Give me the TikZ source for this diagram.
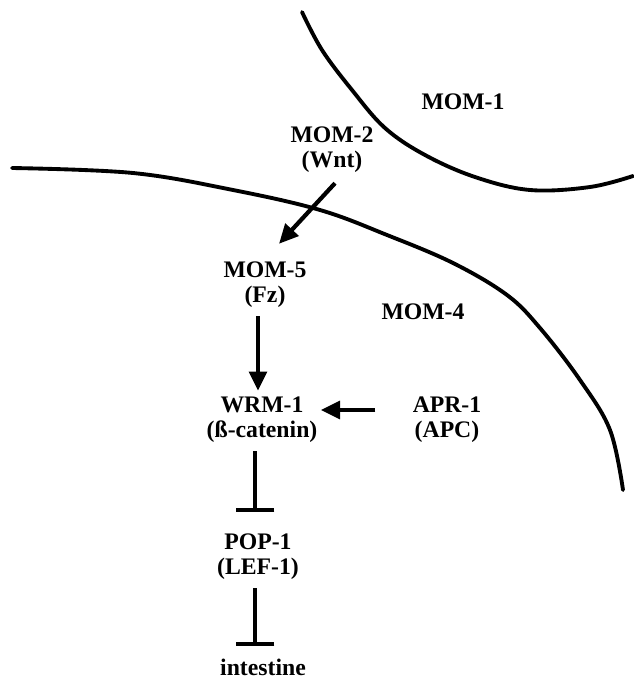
\documentclass[tikz,border=0pt]{standalone}
\usepackage{fontspec}
\setmainfont{Liberation Serif}
\usepackage{tikz}
\usetikzlibrary{arrows.meta, positioning}

\begin{document}
\begin{tikzpicture}[
    x=0.02cm, y=-0.02cm,
    label/.style={align=center, inner sep=0pt, font=\fontsize{13.5}{14.2}\selectfont\bfseries},
    membrane/.style={line width=2.2pt, line cap=round, line join=round},
    act/.style={line width=2.4pt, -{Triangle[length=11pt, width=10pt]}},
    inhib/.style={line width=2.4pt, -{Bar[width=22pt, line width=2.4pt]}}
]
    \useasboundingbox (0,0) rectangle (633,680);

    % cell outlines
    \draw[membrane] plot[smooth, tension=0.6] coordinates {(302,12) (322,50) (352,90) (385,128) (425,155) (475,177) (530,190) (590,187) (633,176)};
    \draw[membrane] plot[smooth, tension=0.6] coordinates {(12,168) (133,173) (233,190) (320,210) (387,235) (453,263) (507,295) (540,328) (580,380) (610,430) (623,490)};

    % proteins
    \node[label] (mom1) at (463,102) {MOM-1};
    \node[label] (mom2) at (332,150) {MOM-2\\(Wnt)};
    \node[label] (mom5) at (265,285) {MOM-5\\(Fz)};
    \node[label] (mom4) at (423,312) {MOM-4};
    \node[label] (wrm1) at (262,420) {WRM-1\\(\ss-catenin)};
    \node[label] (apr1) at (447,420) {APR-1\\(APC)};
    \node[label] (pop1) at (258,557) {POP-1\\(LEF-1)};
    \node[label] (intestine) at (263,667) {intestine};

    % signalling
    \draw[act] ([shift={(3,10)}]mom2.south) -- ([shift={(14,-18)}]mom5.north);
    \draw[act] ([shift={(-7,8)}]mom5.south) -- ([shift={(-4,-6)}]wrm1.north);
    \draw[act] ([shift={(-37,-10)}]apr1.west) -- ([shift={(3,-10)}]wrm1.east);
    \draw[inhib] ([shift={(-7,8)}]wrm1.south) -- ([shift={(-3,-22)}]pop1.north);
    \draw[inhib] ([shift={(-3,8)}]pop1.south) -- ([shift={(-8,-12)}]intestine.north);
\end{tikzpicture}
\end{document}
